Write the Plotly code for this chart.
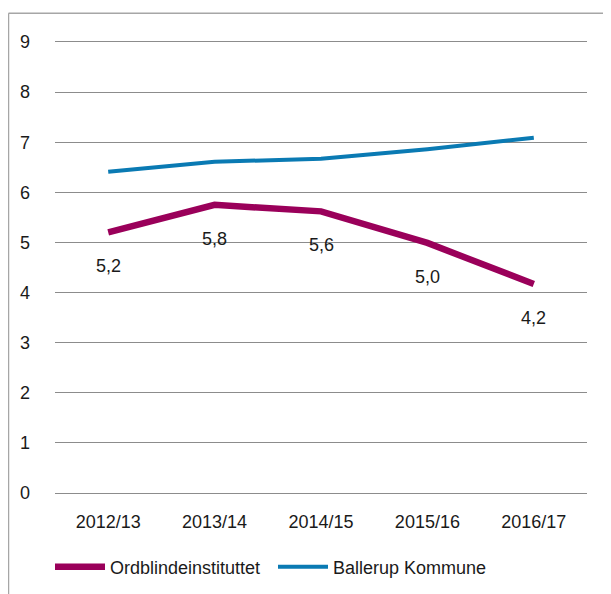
import plotly.graph_objects as go

categories = ["2012/13", "2013/14", "2014/15", "2015/16", "2016/17"]
ordblinde = [5.2, 5.75, 5.62, 4.99, 4.17]
ordblinde_labels = ["5,2", "5,8", "5,6", "5,0", "4,2"]
ballerup = [6.41, 6.61, 6.67, 6.86, 7.09]
y_ticks = list(range(0, 10))

MAGENTA = "#9A005A"
BLUE = "#0A7AB3"
GRID = "#8c8c8c"
FONT = "Liberation Sans, Arial, sans-serif"

fig = go.Figure()
fig.add_trace(go.Scatter(x=categories, y=ordblinde, mode="lines", name="Ordblindeinstituttet",
                         line=dict(color=MAGENTA, width=6.5)))
fig.add_trace(go.Scatter(x=categories, y=ballerup, mode="lines", name="Ballerup Kommune",
                         line=dict(color=BLUE, width=4)))

for c, v, t in zip(categories, ordblinde, ordblinde_labels):
    fig.add_annotation(x=c, y=v, text=t, showarrow=False, yshift=-34,
                       font=dict(size=18, color="#1a1a1a", family=FONT))

# frame lines (top and left edge of chart area)
fig.add_shape(type="line", xref="paper", yref="paper", x0=-0.0874, x1=1.2, y0=1.064, y1=1.064,
              line=dict(color="#a6a6a6", width=1.5))
fig.add_shape(type="line", xref="paper", yref="paper", x0=-0.0874, x1=-0.0874, y0=1.064, y1=-0.3,
              line=dict(color="#a6a6a6", width=1.5))

fig.update_layout(
    width=603, height=586,
    margin=dict(l=47, r=24, t=34, b=101, autoexpand=False),
    paper_bgcolor="white", plot_bgcolor="white",
    font=dict(family=FONT, size=18, color="#1a1a1a"),
    showlegend=True,
    legend=dict(orientation="h", x=-0.0094, xanchor="left", y=-0.164, yanchor="middle",
                font=dict(size=18), itemwidth=50, entrywidth=158, traceorder="normal"),
    separators=",.",
)
fig.update_xaxes(type="category", range=[-0.5, 4.5], showgrid=False, zeroline=False,
                 showline=True, mirror=True, linecolor=GRID, linewidth=1,
                 ticks="", ticklabelstandoff=12)
fig.update_yaxes(range=[0, 9], tickvals=y_ticks, showgrid=True, gridcolor=GRID, gridwidth=1,
                 zeroline=False, showline=False, ticks="", ticklabelstandoff=24)

fig.write_html("out.html")
